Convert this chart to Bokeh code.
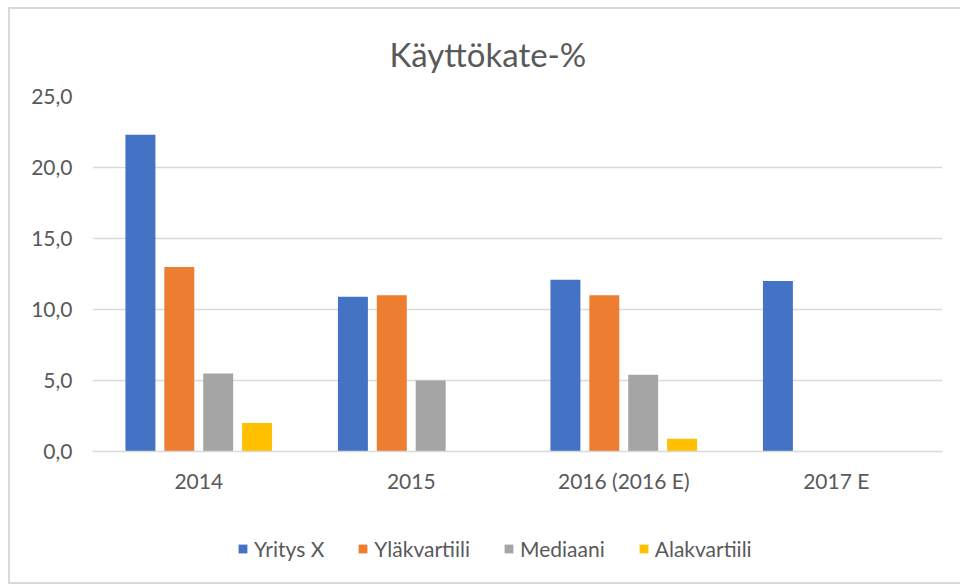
import numpy as np
from bokeh.plotting import figure
from bokeh.layouts import column
from bokeh.models import (ColumnDataSource, FactorRange, Range1d, FixedTicker,
                          Legend, LegendItem)
from bokeh.transform import dodge
from bokeh.embed import file_html
from bokeh.resources import INLINE

# ---- data ----
years = ["2014", "2015", "2016 (2016 E)", "2017 E"]
yritys_x = [22.3, 10.9, 12.1, 12.0]
ylakvartiili = [13.0, 11.0, 11.0, np.nan]
mediaani = [5.5, 5.0, 5.4, np.nan]
alakvartiili = [2.0, np.nan, 0.9, np.nan]
series_names = ["Yritys X", "Yläkvartiili", "Mediaani", "Alakvartiili"]
title_text = "Käyttökate-%"
y_ticks = [0, 5, 10, 15, 20, 25]
y_tick_labels = ["0,0", "5,0", "10,0", "15,0", "20,0", "25,0"]

# ---- style ----
colors = ["#4472C4", "#ED7D31", "#A5A5A5", "#FFC000"]
FONT = "Lato"
TXT = "#595959"
GRID = "#D9D9D9"

source = ColumnDataSource(dict(
    year=years,
    s0=np.array(yritys_x, dtype=float),
    s1=np.array(ylakvartiili, dtype=float),
    s2=np.array(mediaani, dtype=float),
    s3=np.array(alakvartiili, dtype=float),
))

p = figure(width=960, height=510, x_range=FactorRange(*years),
           y_range=Range1d(0, 25), output_backend="svg",
           toolbar_location=None, min_border_left=92, min_border_right=18,
           min_border_top=96, min_border_bottom=59)

p.outline_line_color = None
p.background_fill_color = "white"
p.border_fill_alpha = 0

# title
p.title.text = title_text
p.title.align = "left"
p.title.offset = 297
p.title.standoff = 46
p.title.text_font = FONT
p.title.text_font_size = "33px"
p.title.text_font_style = "normal"
p.title.text_color = TXT

step = 0.183
width = 0.141
offsets = [-1.5 * step, -0.5 * step, 0.5 * step, 1.5 * step]
for i, col in enumerate(colors):
    p.vbar(x=dodge("year", offsets[i], range=p.x_range), top="s%d" % i,
           width=width, source=source, fill_color=col, line_color=None)

# axes
p.xgrid.grid_line_color = None
p.ygrid.grid_line_color = GRID
p.ygrid.grid_line_width = 1.5
p.yaxis.ticker = FixedTicker(ticks=y_ticks)
p.yaxis.major_label_overrides = {t: l for t, l in zip(y_ticks, y_tick_labels)}
p.yaxis.axis_line_color = None
p.yaxis.major_tick_line_color = None
p.yaxis.minor_tick_line_color = None
p.yaxis.major_label_standoff = 14
p.xaxis.axis_line_color = GRID
p.xaxis.axis_line_width = 1.5
p.xaxis.major_tick_line_color = None
p.xaxis.minor_tick_line_color = None
p.xaxis.major_label_standoff = 10
for ax in (p.xaxis[0], p.yaxis[0]):
    ax.major_label_text_font = FONT
    ax.major_label_text_font_size = "21px"
    ax.major_label_text_color = TXT

# legend strip below the chart
lg = figure(width=960, height=74, x_range=Range1d(0, 1), y_range=Range1d(0, 1),
            output_backend="svg", toolbar_location=None, min_border=0)
lg.axis.visible = False
lg.grid.grid_line_color = None
lg.outline_line_color = None
lg.background_fill_alpha = 0
lg.border_fill_alpha = 0
items = []
for name, col in zip(series_names, colors):
    r = lg.vbar(x=[-5], top=[-5], width=0.1, fill_color=col, line_color=None)
    items.append(LegendItem(label=name, renderers=[r]))
legend = Legend(items=items, orientation="horizontal", location=(145, 23),
                glyph_width=11, glyph_height=11, label_standoff=6, spacing=33,
                padding=0, margin=0, border_line_color=None,
                background_fill_alpha=0, label_text_font=FONT,
                label_text_font_size="21px", label_text_color=TXT,
                label_height=20)
lg.add_layout(legend, "center")

frame_css = ("linear-gradient(#D9D9D9,#D9D9D9) 8px 7px / 952px 2px no-repeat, "
             "linear-gradient(#D9D9D9,#D9D9D9) 8px 7px / 2px 577px no-repeat, "
             "linear-gradient(#D9D9D9,#D9D9D9) 8px 582px / 952px 2px no-repeat, "
             "white")
layout = column(p, lg, spacing=0, styles={"background": frame_css})

open("out.html", "w").write(file_html(layout, INLINE))
